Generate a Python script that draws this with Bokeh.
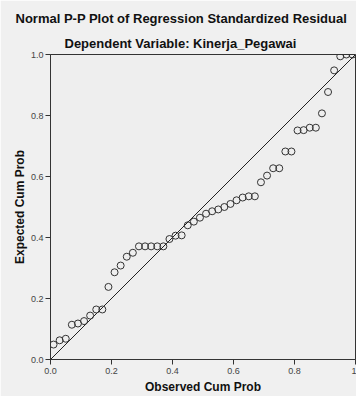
from bokeh.plotting import figure
from bokeh.models import Title, FixedTicker, ColumnDataSource
from bokeh.embed import file_html
from bokeh.resources import INLINE

observed = [0.01, 0.03, 0.05, 0.07, 0.09, 0.11, 0.13, 0.15, 0.17, 0.19,
            0.21, 0.23, 0.25, 0.27, 0.29, 0.31, 0.33, 0.35, 0.37, 0.39,
            0.41, 0.43, 0.45, 0.47, 0.49, 0.51, 0.53, 0.55, 0.57, 0.59,
            0.61, 0.63, 0.65, 0.67, 0.69, 0.71, 0.73, 0.75, 0.77, 0.79,
            0.81, 0.83, 0.85, 0.87, 0.89, 0.91, 0.93, 0.95, 0.97, 0.99]
expected = [0.049, 0.063, 0.068, 0.114, 0.118, 0.126, 0.144, 0.164, 0.164, 0.238,
            0.286, 0.308, 0.337, 0.350, 0.371, 0.371, 0.371, 0.371, 0.371, 0.395,
            0.406, 0.407, 0.440, 0.452, 0.465, 0.478, 0.486, 0.492, 0.500, 0.510,
            0.522, 0.531, 0.535, 0.535, 0.581, 0.603, 0.627, 0.627, 0.682, 0.682,
            0.751, 0.752, 0.760, 0.760, 0.807, 0.877, 0.948, 0.994, 1.000, 1.000]
ref_line_x = [0.0, 1.0]
ref_line_y = [0.0, 1.0]
tick_values = [0.0, 0.2, 0.4, 0.6, 0.8, 1.0]
y_tick_labels = {0.0: "0.0", 0.2: "0.2", 0.4: "0.4", 0.6: "0.6", 0.8: "0.8", 1.0: "1.0"}
x_tick_labels = {0.0: "0.0", 0.2: "0.2", 0.4: "0.4", 0.6: "0.6", 0.8: "0.8", 1.0: "1"}

FONT = "Liberation Sans"
BG = "#f0f0f0"

p = figure(width=356, height=396, output_backend="svg", toolbar_location=None,
           x_range=(0, 1), y_range=(0, 1),
           min_border_left=50, min_border_right=1, min_border_bottom=36, min_border_top=54)
p.background_fill_color = "#eeeeee"
p.border_fill_color = BG
p.outline_line_color = "#333333"
p.outline_line_width = 1
p.xgrid.visible = False
p.ygrid.visible = False

p.title.text = "Normal P-P Plot of Regression Standardized Residual"
p.title.align = "left"
p.title.offset = -35
p.title.text_font = FONT
p.title.text_font_size = "13px"
p.title.text_font_style = "bold"
p.title.text_color = "#111111"
p.title.standoff = 9
p.add_layout(Title(text="Dependent Variable: Kinerja_Pegawai", align="left", offset=14,
                   text_font=FONT, text_font_size="13px", text_font_style="bold",
                   text_color="#111111", standoff=7), "above")

for ax in (p.xaxis[0], p.yaxis[0]):
    ax.ticker = FixedTicker(ticks=tick_values)
    ax.minor_tick_line_color = None
    ax.major_tick_in = 0
    ax.major_tick_out = 5
    ax.axis_line_color = "#333333"
    ax.major_tick_line_color = "#333333"
    ax.major_label_text_font = FONT
    ax.major_label_text_font_size = "9px"
    ax.major_label_text_color = "#444444"
    ax.axis_label_text_font = FONT
    ax.axis_label_text_font_size = "12px"
    ax.axis_label_text_font_style = "bold"
    ax.axis_label_text_color = "#111111"

p.xaxis[0].major_label_standoff = 3
p.yaxis[0].major_label_standoff = 2
p.xaxis[0].major_label_overrides = x_tick_labels
p.yaxis[0].major_label_overrides = y_tick_labels
p.xaxis[0].axis_label = "Observed Cum Prob"
p.yaxis[0].axis_label = "Expected Cum Prob"
p.xaxis[0].axis_label_standoff = 3
p.yaxis[0].axis_label_standoff = 1

p.line(ref_line_x, ref_line_y, line_color="#222222", line_width=1)
src = ColumnDataSource(dict(x=observed, y=expected))
p.scatter("x", "y", source=src, marker="circle", size=7, fill_color=None,
          line_color="#333333", line_width=1)

open("out.html", "w").write(file_html(p, INLINE))
